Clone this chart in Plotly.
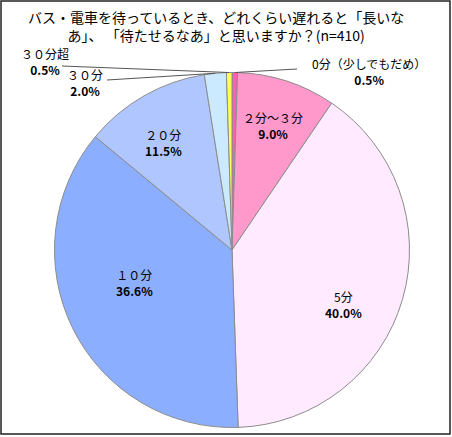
import math
import plotly.graph_objects as go

# ---- data ----
categories = ["0分（少しでもだめ）", "２分～３分", "5分", "１０分", "２０分", "３０分", "３０分超"]
values = [0.5, 9.0, 40.0, 36.6, 11.5, 2.0, 0.5]
colors = ["#FF5FB0", "#FF99CC", "#FFEAFF", "#8CAEFF", "#B0C6FF", "#CCEAFF", "#FFFF55"]
title_text = "バス・電車を待っているとき、どれくらい遅れると「長いな<br>あ」、 「待たせるなあ」と思いますか？(n=410)"

W, H = 452, 437
CX, CY, R = 232, 250, 177.5
FONT = "Noto Sans CJK JP, Noto Sans, sans-serif"


def px(x, y):
    return x / W, 1 - y / H


total = sum(values)
cum = 0
mids = []
for v in values:
    mids.append((cum + v / 2) / total * 360)
    cum += v


def polar(angle_deg, r):
    a = math.radians(angle_deg)
    return CX + r * math.sin(a), CY - r * math.cos(a)


fig = go.Figure(go.Pie(
    labels=categories, values=values, sort=False, direction="clockwise", rotation=0,
    marker=dict(colors=colors, line=dict(color="#8C8C8C", width=1)),
    textinfo="none", hoverinfo="label+percent", showlegend=False,
    domain=dict(x=[(CX - R) / W, (CX + R) / W], y=[1 - (CY + R) / H, 1 - (CY - R) / H]),
))

annotations = []
shapes = []

# inside labels: (index, angle offset, radius fraction)
inside = [(1, 0, 0.74), (2, 10, 0.70), (3, 8, 0.58), (4, -3, 0.72)]
for i, off, rf in inside:
    x, y = polar(mids[i] + off, R * rf)
    ax, ay = px(x, y)
    annotations.append(dict(
        x=ax, y=ay, xref="paper", yref="paper", showarrow=False,
        xanchor="center", yanchor="middle",
        text=f"{categories[i]}<br><b>{values[i]:.1f}%</b>",
        font=dict(family=FONT, size=12, color="#000"), align="center",
    ))

# outside labels: (index, label center px, leader start px)
outside = [(0, (369, 71), (297, 69)), (6, (45, 62), (62, 66)), (5, (85, 83), (107, 80))]
for i, (lx, ly), (sx, sy) in outside:
    ax, ay = px(lx, ly)
    annotations.append(dict(
        x=ax, y=ay, xref="paper", yref="paper", showarrow=False,
        xanchor="center", yanchor="middle",
        text=f"{categories[i]}<br><b>{values[i]:.1f}%</b>",
        font=dict(family=FONT, size=12, color="#000"), align="center",
    ))
    ex, ey = polar(mids[i], R)
    x0, y0 = px(sx, sy)
    x1, y1 = px(ex, ey)
    shapes.append(dict(type="line", xref="paper", yref="paper", x0=x0, y0=y0, x1=x1, y1=y1,
                       line=dict(color="#555", width=1)))

# frame
fx0, fy0 = px(1, 1)
fx1, fy1 = px(450, 434)
shapes.append(dict(type="rect", xref="paper", yref="paper", x0=fx0, y0=fy1, x1=fx1, y1=fy0,
                   line=dict(color="#222", width=1.5)))

annotations.append(dict(
    x=216 / W, y=1 - 26 / H, xref="paper", yref="paper", showarrow=False,
    xanchor="center", yanchor="middle",
    text=title_text, font=dict(family=FONT, size=14, color="#000"), align="center",
))

fig.update_layout(
    width=W, height=H, margin=dict(l=0, r=0, t=0, b=0),
    paper_bgcolor="white", plot_bgcolor="white",
    annotations=annotations, shapes=shapes,
)
fig.write_html("out.html", config={"displayModeBar": False},
               post_script="document.body.style.margin='0';document.body.style.overflow='hidden';")
